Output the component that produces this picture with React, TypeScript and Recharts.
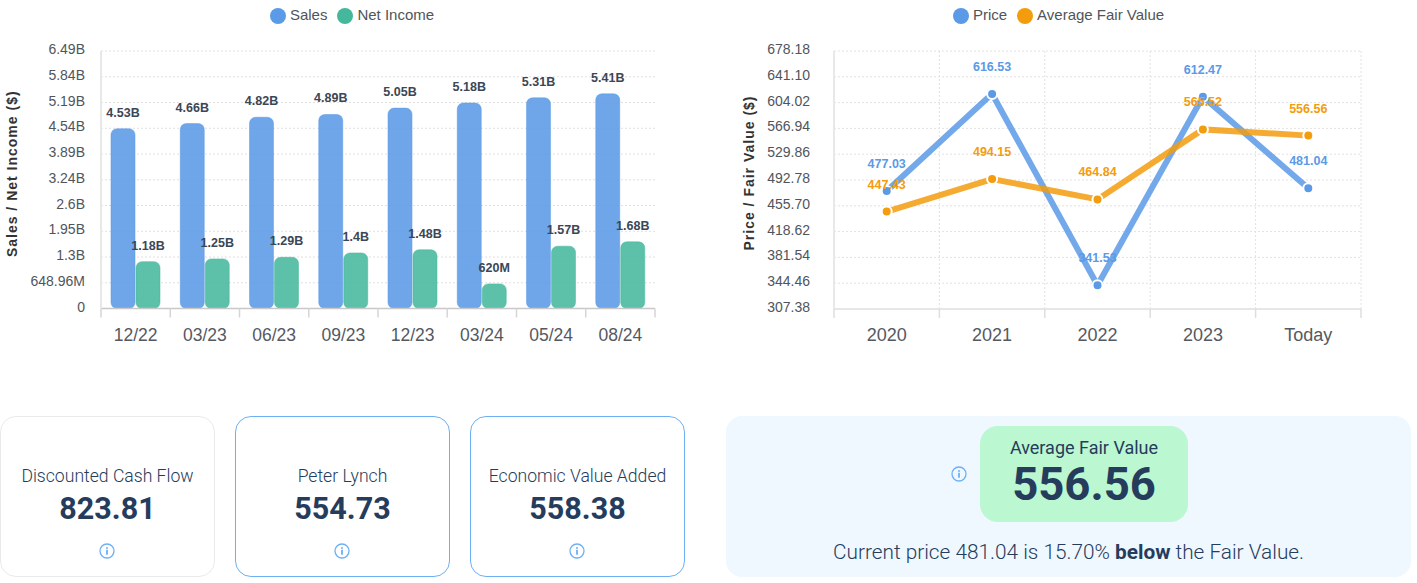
import React from "react";
import { BarChart, Bar, LineChart, Line, XAxis, YAxis, CartesianGrid, LabelList, Legend } from "recharts";

const periods = ["12/22", "03/23", "06/23", "09/23", "12/23", "03/24", "05/24", "08/24"];
const sales = [4.53e9, 4.66e9, 4.82e9, 4.89e9, 5.05e9, 5.18e9, 5.31e9, 5.41e9];
const netIncome = [1.18e9, 1.25e9, 1.29e9, 1.4e9, 1.48e9, 620e6, 1.57e9, 1.68e9];
const moneyTicks = [0, 648.96e6, 1297.92e6, 1946.88e6, 2595.84e6, 3244.8e6, 3893.76e6, 4542.72e6, 5191.68e6, 5840.64e6, 6489.6e6];
const moneyTickLabels = ["0", "648.96M", "1.3B", "1.95B", "2.6B", "3.24B", "3.89B", "4.54B", "5.19B", "5.84B", "6.49B"];

const years = ["2020", "2021", "2022", "2023", "Today"];
const price = [477.03, 616.53, 341.53, 612.47, 481.04];
const fairValue = [447.43, 494.15, 464.84, 565.52, 556.56];
const priceTicks = [307.38, 344.46, 381.54, 418.62, 455.7, 492.78, 529.86, 566.94, 604.02, 641.1, 678.18];

const models = [
  { name: "Discounted Cash Flow", value: "823.81", left: 0, border: "#e8eaec" },
  { name: "Peter Lynch", value: "554.73", left: 235, border: "#6db0f4" },
  { name: "Economic Value Added", value: "558.38", left: 470, border: "#6db0f4" },
];

const salesRows = periods.map((period, i) => ({ period, sales: sales[i], netIncome: netIncome[i] }));
const priceRows = years.map((year, i) => ({ year, price: price[i], fairValue: fairValue[i] }));

const SANS = "'Liberation Sans', Arial, sans-serif";
const NAVY = "#253c5c";
const BLUE = "#5a9ae6";
const GREEN = "#45b89c";
const ORANGE = "#f39c0d";

const formatMoney = (v: any) => (v >= 1e9 ? `${+(v / 1e9).toFixed(2)}B` : `${Math.round(v / 1e6)}M`);

const YTick = ({ x, y, payload, format, dx = 0 }: any) => (
  <text x={x + dx} y={y - 2} dy="0.36em" textAnchor="end" fontFamily={SANS} fontSize={14} fill="#50555c">
    {format(payload)}
  </text>
);

const XTick = ({ x, y, payload, step, last, lineColor, fontSize }: any) => (
  <g>
    <line x1={x - step / 2} x2={x - step / 2} y1={y - 8} y2={y + 1} stroke={lineColor} strokeWidth={1.5} />
    {payload.value === last ? (
      <line x1={x + step / 2} x2={x + step / 2} y1={y - 8} y2={y + 1} stroke={lineColor} strokeWidth={1.5} />
    ) : null}
    <text x={x} y={y + 18} dy="0.36em" textAnchor="middle" fontFamily={SANS} fontSize={fontSize} fill="#55595f">
      {payload.value}
    </text>
  </g>
);

const Dot = ({ cx, cy, fill }: any) => (
  <circle cx={cx} cy={cy} r={5} fill={fill} stroke="#ffffff" strokeWidth={2} />
);

const Info = ({ size = 16 }: { size?: number }) => (
  <svg width={size} height={size} viewBox="0 0 16 16" style={{ display: "block" }}>
    <circle cx={8} cy={8} r={7} fill="none" stroke="#6cb0f8" strokeWidth={1.3} />
    <circle cx={8} cy={4.9} r={1} fill="#6cb0f8" />
    <rect x={7.1} y={6.8} width={1.8} height={4.9} fill="#6cb0f8" />
  </svg>
);

const legendStyle = { fontFamily: SANS, fontSize: 15, color: "#50555c" };
const axisTitle = { fontFamily: SANS, fontSize: 14, fontWeight: 700, fill: "#333", textAnchor: "middle", letterSpacing: 1 };

const App = () => (
  <div style={{ position: "absolute", left: 0, top: 0, width: 1417, height: 583, background: "#fff", overflow: "hidden" }}>
    <div style={{ position: "absolute", left: 0, top: 0 }}>
      <BarChart
        width={670}
        height={360}
        data={salesRows}
        margin={{ top: 51, right: 15, bottom: 0, left: 0 }}
        barSize={24}
        barGap={1}
      >
        <Legend
          verticalAlign="middle"
          iconType="circle"
          iconSize={16}
          itemSorter={null}
          wrapperStyle={{ ...legendStyle, top: 6, left: 22, width: 670 }}
          formatter={(v: any) => <span style={{ color: "#50555c" }}>{v}</span>}
        />
        <CartesianGrid vertical={false} stroke="#e0e0e0" strokeDasharray="2 2" />
        <XAxis
          dataKey="period"
          axisLine={{ stroke: "#c8c8c8", strokeWidth: 1.5 }}
          tickLine={false}
          height={51.5}
          interval={0}
          tick={<XTick step={69.25} last="08/24" lineColor="#d6d6d6" fontSize={17.5} />}
        />
        <YAxis
          domain={[0, moneyTicks[10]]}
          ticks={moneyTicks}
          interval={0}
          width={101}
          axisLine={{ stroke: "#e8e8e8", strokeWidth: 2 }}
          tickLine={false}
          tick={<YTick dx={-8} format={(p: any) => moneyTickLabels[moneyTicks.indexOf(p.value)]} />}
          label={{
            value: "Sales / Net Income ($)",
            angle: -90,
            position: "insideLeft",
            offset: 0,
            dx: 12,
            dy: -6,
            style: axisTitle,
          }}
        />
        <Bar dataKey="sales" name="Sales" fill={BLUE} fillOpacity={0.88} stroke={BLUE} strokeOpacity={0.5} radius={[6, 6, 6, 6]} isAnimationActive={false} legendType="circle">
          <LabelList dataKey="sales" position="top" offset={12} formatter={formatMoney} style={{ fontFamily: SANS, fontSize: 12.5, fontWeight: 700, fill: "#3b4656" }} />
        </Bar>
        <Bar dataKey="netIncome" name="Net Income" fill={GREEN} fillOpacity={0.88} stroke={GREEN} strokeOpacity={0.5} radius={[6, 6, 6, 6]} isAnimationActive={false} legendType="circle">
          <LabelList dataKey="netIncome" position="top" offset={12} formatter={formatMoney} style={{ fontFamily: SANS, fontSize: 12.5, fontWeight: 700, fill: "#3b4656" }} />
        </Bar>
      </BarChart>
    </div>

    <div style={{ position: "absolute", left: 730, top: 0 }}>
      <LineChart width={645} height={360} data={priceRows} margin={{ top: 51, right: 14, bottom: 0, left: 0 }}>
        <Legend
          verticalAlign="middle"
          iconType="circle"
          iconSize={16}
          itemSorter={null}
          wrapperStyle={{ ...legendStyle, top: 6, left: 11, width: 645 }}
          formatter={(v: any) => <span style={{ color: "#50555c" }}>{v}</span>}
        />
        <CartesianGrid
          stroke="#e2e2e2"
          strokeDasharray="2 2"
          verticalCoordinatesGenerator={({ offset }: any) =>
            years.map((_, i) => offset.left + ((i + 1) * offset.width) / years.length)
          }
        />
        <XAxis
          dataKey="year"
          padding={{ left: 52.7, right: 52.7 }}
          axisLine={{ stroke: "#e6e6e6", strokeWidth: 2 }}
          tickLine={false}
          height={51}
          interval={0}
          tick={<XTick step={105.4} last="Today" lineColor="#dedede" fontSize={18} />}
        />
        <YAxis
          domain={[priceTicks[0], priceTicks[10]]}
          ticks={priceTicks}
          interval={0}
          width={104}
          axisLine={{ stroke: "#e8e8e8", strokeWidth: 2 }}
          tickLine={false}
          tick={<YTick dx={-16} format={(p: any) => p.value.toFixed(2)} />}
          label={{
            value: "Price / Fair Value ($)",
            angle: -90,
            position: "insideLeft",
            offset: 0,
            dx: 19,
            dy: -7,
            style: axisTitle,
          }}
        />
        <Line dataKey="price" name="Price" stroke={BLUE} strokeOpacity={0.85} strokeWidth={6} dot={<Dot fill={BLUE} />} activeDot={false} isAnimationActive={false} legendType="circle">
          <LabelList dataKey="price" position="top" offset={23} formatter={(v: any) => v.toFixed(2)} style={{ fontFamily: SANS, fontSize: 12.5, fontWeight: 700, fill: BLUE }} />
        </Line>
        <Line dataKey="fairValue" name="Average Fair Value" stroke={ORANGE} strokeOpacity={0.85} strokeWidth={6} dot={<Dot fill={ORANGE} />} activeDot={false} isAnimationActive={false} legendType="circle">
          <LabelList dataKey="fairValue" position="top" offset={23} formatter={(v: any) => v.toFixed(2)} style={{ fontFamily: SANS, fontSize: 12.5, fontWeight: 700, fill: ORANGE }} />
        </Line>
      </LineChart>
    </div>

    {models.map((m) => (
      <div
        key={m.name}
        style={{
          position: "absolute",
          left: m.left,
          top: 416,
          width: 215,
          height: 161,
          boxSizing: "border-box",
          border: `1px solid ${m.border}`,
          borderRadius: 16,
          fontFamily: "Roboto, sans-serif",
          color: NAVY,
          textAlign: "center",
        }}
      >
        <div style={{ position: "absolute", left: 0, right: 0, top: 48, fontSize: 17.6, fontWeight: 300, lineHeight: "22px" }}>{m.name}</div>
        <div style={{ position: "absolute", left: 0, right: 0, top: 72, fontSize: 30.5, fontWeight: 700, lineHeight: "40px" }}>{m.value}</div>
        <div style={{ position: "absolute", left: 98, top: 126 }}>
          <Info />
        </div>
      </div>
    ))}

    <div style={{ position: "absolute", left: 726, top: 416, width: 685, height: 161, background: "#eff7ff", borderRadius: 16, fontFamily: "Roboto, sans-serif", color: NAVY }}>
      <div style={{ position: "absolute", left: 225, top: 50 }}>
        <Info />
      </div>
      <div style={{ position: "absolute", left: 254, top: 10, width: 208, height: 96, background: "#bbf7d0", borderRadius: 18, textAlign: "center" }}>
        <div style={{ position: "absolute", left: 0, right: 0, top: 11, fontSize: 18, lineHeight: "22px" }}>Average Fair Value</div>
        <div style={{ position: "absolute", left: 0, right: 0, top: 31, fontSize: 45.5, fontWeight: 700, lineHeight: "56px" }}>556.56</div>
      </div>
      <div style={{ position: "absolute", left: 0, right: 0, top: 124, textAlign: "center", fontSize: 20.8, fontWeight: 300, lineHeight: "24px" }}>
        Current price 481.04 is 15.70% <b style={{ fontWeight: 700 }}>below</b> the Fair Value.
      </div>
    </div>
  </div>
);

export default App;
